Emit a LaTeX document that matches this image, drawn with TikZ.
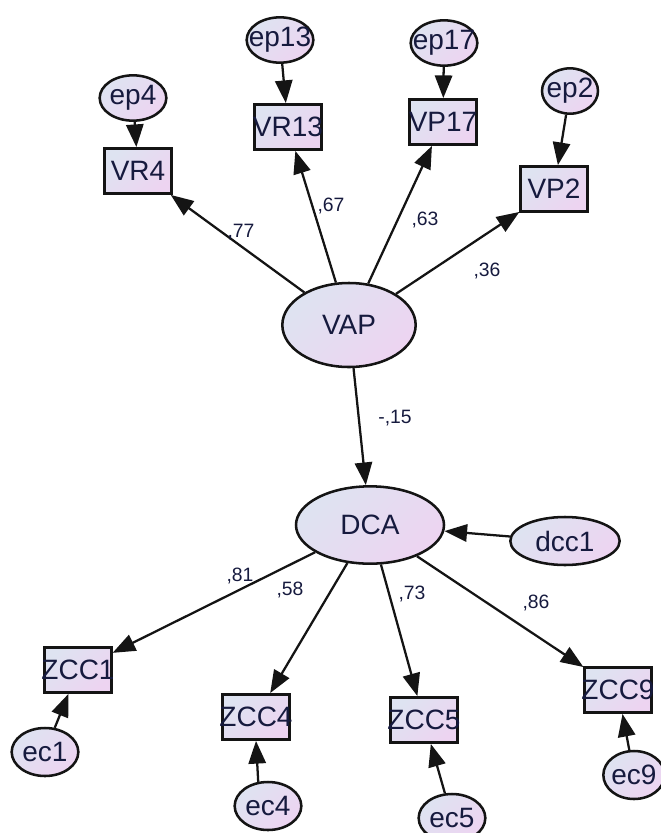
\documentclass[tikz,border=0pt]{standalone}
\usepackage{fontspec}
\setmainfont{Liberation Sans}
\usetikzlibrary{positioning,shapes.geometric,arrows.meta}
\definecolor{FillLeft}{RGB}{222,227,241}
\definecolor{FillRight}{RGB}{237,212,241}
\definecolor{Ink}{RGB}{22,26,62}
\definecolor{Edge}{RGB}{20,20,20}

\begin{document}
\begin{tikzpicture}[x=0.75pt,y=-0.75pt,
    obs/.style={rectangle,draw=Edge,line width=1.9pt,top color=FillLeft,bottom color=FillRight,shading angle=45,minimum width=50pt,minimum height=34pt,inner sep=0pt,inner xsep=-3pt,text=Ink,font=\fontsize{21}{23}\selectfont},
    latent/.style={ellipse,draw=Edge,line width=1.9pt,top color=FillLeft,bottom color=FillRight,shading angle=45,inner sep=0pt,text=Ink,font=\fontsize{21}{23}\selectfont},
    err/.style={latent,minimum width=50pt,minimum height=34pt,inner xsep=-6pt},
    coef/.style={font=\fontsize{14.5}{16}\selectfont,text=Ink,inner sep=0pt},
    arrow/.style={-{Triangle[length=17pt,width=13pt]},line width=1.7pt,draw=Edge}
]
\useasboundingbox (0,0) rectangle (661,833);

% Latent variables
\node[latent,minimum width=100pt,minimum height=63pt] (vap) at (349,325) {VAP};
\node[latent,minimum width=111pt,minimum height=58pt] (dca) at (370,525) {DCA};
\node[latent,minimum width=82pt,minimum height=36pt] (dcc1) at (565,541) {dcc1};

% Indicators of VAP
\node[obs] (vr4) at (138,171) {VR4};
\node[obs] (vr13) at (288,127) {VR13};
\node[obs] (vp17) at (443,122) {VP17};
\node[obs] (vp2) at (554,189) {VP2};

% Errors of VAP indicators
\node[err] (ep4) at (133,98) {ep4};
\node[err] (ep13) at (280,40) {ep13};
\node[err] (ep17) at (444,43) {ep17};
\node[err,minimum width=42pt] (ep2) at (570,91) {ep2};

\draw[arrow] (ep4) -- (vr4);
\draw[arrow] (ep13) -- (vr13);
\draw[arrow] (ep17) -- (vp17);
\draw[arrow] (ep2) -- (vp2);

% Loadings of VAP
\draw[arrow] (vap) -- (vr4);
\draw[arrow] (vap) -- (vr13);
\draw[arrow] (vap) -- (vp17);
\draw[arrow] (vap) -- (vp2);

\node[coef] (c77) at (241,232) {,77};
\node[coef] (c67) at (331,206) {,67};
\node[coef] (c63) at (425,220) {,63};
\node[coef] (c36) at (487,271) {,36};

% Structural path
\draw[arrow] (vap) -- (dca);
\draw[arrow] (dcc1) -- (dca);
\node[coef] (c15) at (395,418) {-,15};

% Indicators of DCA
\node[obs] (zcc1) at (78,670) {ZCC1};
\node[obs] (zcc4) at (256,717) {ZCC4};
\node[obs] (zcc5) at (424,720) {ZCC5};
\node[obs] (zcc9) at (618,690) {ZCC9};

\draw[arrow] (dca) -- (zcc1);
\draw[arrow] (dca) -- (zcc4);
\draw[arrow] (dca) -- (zcc5);
\draw[arrow] (dca) -- (zcc9);

\node[coef] (c81) at (240,576) {,81};
\node[coef] (c58) at (290,590) {,58};
\node[coef] (c73) at (412,594) {,73};
\node[coef] (c86) at (536,603) {,86};

% Errors of DCA indicators
\node[err,minimum height=36pt] (ec1) at (45,752) {ec1};
\node[err,minimum height=36pt] (ec4) at (268,806) {ec4};
\node[err,minimum height=36pt] (ec5) at (452,818) {ec5};
\node[err,minimum width=46pt,minimum height=36pt] (ec9) at (634,775) {ec9};

\draw[arrow] (ec1) -- (zcc1);
\draw[arrow] (ec4.112) -- (zcc4.south);
\draw[arrow] (ec5) -- (zcc5);
\draw[arrow] (ec9) -- (zcc9);

\end{tikzpicture}
\end{document}
